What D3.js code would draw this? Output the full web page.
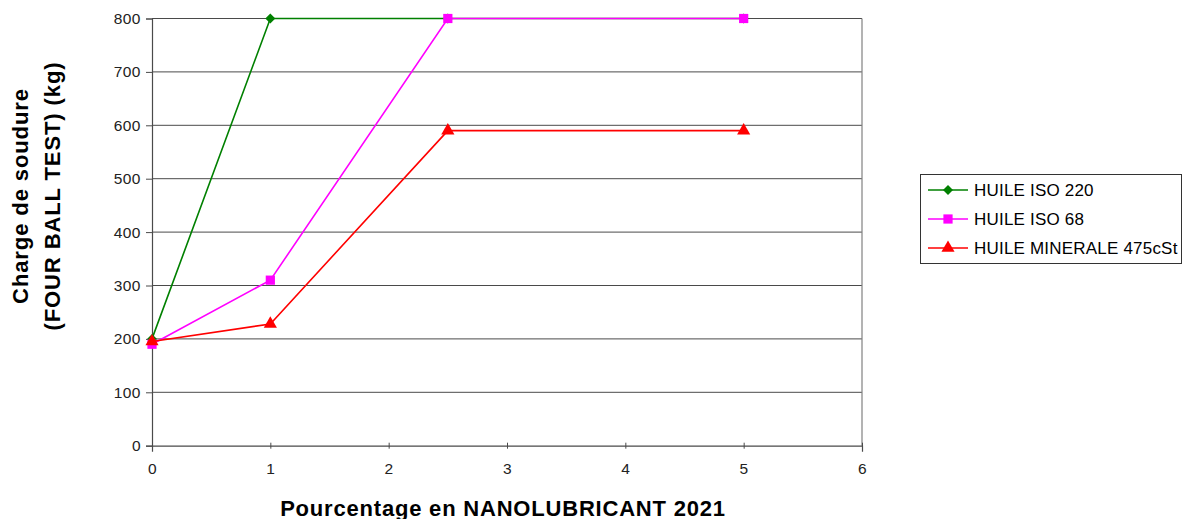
<!DOCTYPE html>
<html><head><meta charset="utf-8">
<script src="https://cdn.jsdelivr.net/npm/d3@7"></script>
<style>body{margin:0;background:#fff}svg{display:block;font-family:"Liberation Sans",Arial,sans-serif}</style>
</head><body><svg id="c" width="1184" height="519"></svg>
<script>
const xValues = [0, 1, 2.5, 5];
const iso220 = [200, 800, 800, 800];
const iso68 = [190, 310, 800, 800];
const minerale = [195, 228, 590, 590];
const seriesNames = ["HUILE ISO 220", "HUILE ISO 68", "HUILE MINERALE 475cSt"];
const seriesColors = ["#008000", "#ff00ff", "#ff0000"];
const seriesShapes = ["diamond", "square", "triangle"];
const xTicks = [0, 1, 2, 3, 4, 5, 6];
const yTicks = [0, 100, 200, 300, 400, 500, 600, 700, 800];
const xTitle = "Pourcentage en NANOLUBRICANT 2021";
const yTitle = ["Charge de soudure", "(FOUR BALL TEST) (kg)"];

const svg = d3.select("#c");
const L = 152, R = 862, T = 18.5, B = 445.7;
const x = d3.scaleLinear().domain([0, 6]).range([L, R]);
const y = d3.scaleLinear().domain([0, 800]).range([B, T]);

// gridlines
svg.append("g").selectAll("line").data(yTicks.filter(d => d > 0)).join("line")
  .attr("x1", L).attr("x2", R).attr("y1", d => y(d)).attr("y2", d => y(d))
  .attr("stroke", "#4a4a4a").attr("stroke-width", 1);
// right border
svg.append("line").attr("x1", R).attr("x2", R).attr("y1", T).attr("y2", B)
  .attr("stroke", "#808080").attr("stroke-width", 1.2);

const xAxis = svg.append("g").attr("transform", `translate(0,${B})`)
  .call(d3.axisBottom(x).tickValues(xTicks).tickSize(6).tickPadding(11).tickFormat(d3.format("d")));
const yAxis = svg.append("g").attr("transform", `translate(${L},0)`)
  .call(d3.axisLeft(y).tickValues(yTicks).tickSize(6).tickPadding(5).tickFormat(d3.format("d")));
[xAxis, yAxis].forEach(a => {
  a.select(".domain").attr("stroke", "#4a4a4a").attr("stroke-width", 1.2);
  a.selectAll(".tick line").attr("stroke", "#4a4a4a");
  a.selectAll("text").attr("font-size", 15.5).attr("fill", "#222")
    .attr("letter-spacing", 0.5).attr("font-family", "Liberation Sans, Arial, sans-serif");
});
xAxis.selectAll(".tick line").attr("transform", "translate(0,-3)");

const diamondPath = { draw(ctx, size) { const r = Math.sqrt(size / 2); ctx.moveTo(0, -r); ctx.lineTo(r, 0); ctx.lineTo(0, r); ctx.lineTo(-r, 0); ctx.closePath(); } };
const sym = {
  diamond: d3.symbol().type(diamondPath).size(50),
  square: d3.symbol().type(d3.symbolSquare).size(85),
  triangle: d3.symbol().type(d3.symbolTriangle).size(75)
};
const allSeries = [iso220, iso68, minerale];
const line = d3.line().x((d, i) => x(xValues[i])).y(d => y(d));
allSeries.forEach((vals, si) => {
  const g = svg.append("g");
  g.append("path").attr("d", line(vals)).attr("fill", "none")
    .attr("stroke", seriesColors[si]).attr("stroke-width", 1.6);
  g.selectAll("path.m").data(vals).join("path").attr("class", "m")
    .attr("d", sym[seriesShapes[si]])
    .attr("transform", (d, i) => `translate(${x(xValues[i])},${y(d)})`)
    .attr("fill", seriesColors[si]);
});

// axis titles
svg.append("text").attr("x", 503).attr("y", 515.5).attr("text-anchor", "middle")
  .attr("font-weight", "bold").attr("font-size", 22).attr("letter-spacing", 0.8)
  .attr("fill", "#000").text(xTitle);
yTitle.forEach((t, i) => {
  svg.append("text").attr("transform", `translate(${28 + i * 31.5},196) rotate(-90)`)
    .attr("text-anchor", "middle").attr("font-weight", "bold").attr("font-size", 22)
    .attr("letter-spacing", 0.9).attr("fill", "#000").text(t);
});

// legend
const lg = svg.append("g");
lg.append("rect").attr("x", 920.5).attr("y", 174.5).attr("width", 261).attr("height", 89)
  .attr("fill", "#fff").attr("stroke", "#333").attr("stroke-width", 1);
seriesNames.forEach((n, i) => {
  const yy = 190 + i * 29;
  lg.append("line").attr("x1", 928).attr("x2", 968).attr("y1", yy).attr("y2", yy)
    .attr("stroke", seriesColors[i]).attr("stroke-width", 1.6);
  lg.append("path").attr("d", sym[seriesShapes[i]]).attr("transform", `translate(948,${yy})`)
    .attr("fill", seriesColors[i]);
  lg.append("text").attr("x", 974).attr("y", yy + 6).attr("font-size", 17)
    .attr("letter-spacing", 0.2).attr("fill", "#000").text(n);
});
</script></body></html>
